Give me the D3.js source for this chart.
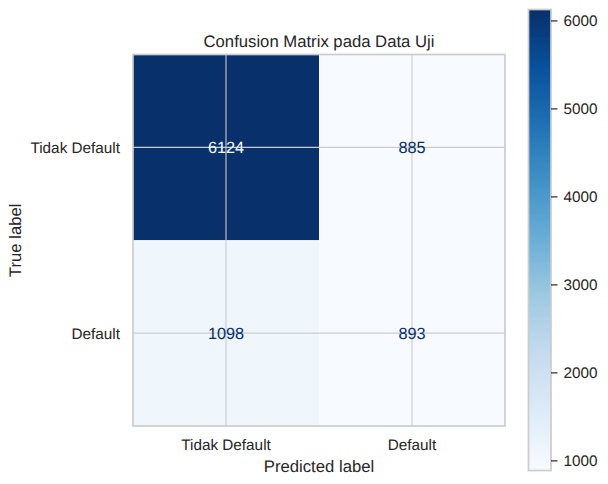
<!DOCTYPE html>
<html><head><meta charset="utf-8">
<script src="https://cdn.jsdelivr.net/npm/d3@7"></script>
<style>html,body{margin:0;padding:0;background:#fff}svg{display:block}text{font-family:"Liberation Sans",Arial,sans-serif;fill:#262626;text-rendering:geometricPrecision}</style>
</head><body><svg id="c" width="608" height="484"></svg>
<script>
const chartTitle = "Confusion Matrix pada Data Uji";
const xAxisLabel = "Predicted label";
const yAxisLabel = "True label";
const classNames = ["Tidak Default", "Default"];
const rowTidakDefault = [6124, 885];
const rowDefault = [1098, 893];
const colorbarTicks = [1000, 2000, 3000, 4000, 5000, 6000];
const bluesStops = ["#f7fbff","#deebf7","#c6dbef","#9ecae1","#6baed6","#4292c6","#2171b5","#08519c","#08306b"];

const matrix = [rowTidakDefault, rowDefault];
const all = matrix.flat();
const vmin = d3.min(all), vmax = d3.max(all);
const blues = d3.scaleLinear().domain(bluesStops.map((_, i) => i / (bluesStops.length - 1))).range(bluesStops).interpolate(d3.interpolateRgb);
const color = d3.scaleSequential(blues).domain([vmin, vmax]);

const svg = d3.select("#c");
const plot = {l: 133, r: 505, t: 54.5, b: 426};
const x = d3.scaleBand().domain(classNames).range([plot.l, plot.r]);
const y = d3.scaleBand().domain(classNames).range([plot.t, plot.b]);
const FS = 15.3, LS = 16.7, CS = 16.3;

const cells = matrix.flatMap((row, r) => row.map((v, c) => ({v, row: classNames[r], col: classNames[c]})));
svg.append("g").selectAll("rect").data(cells).join("rect")
  .attr("x", d => x(d.col)).attr("y", d => y(d.row))
  .attr("width", x.bandwidth()).attr("height", y.bandwidth())
  .attr("fill", d => color(d.v));

const grid = svg.append("g").attr("stroke", "#cccccc").attr("stroke-width", 1.1);
classNames.forEach(n => {
  const cx = x(n) + x.bandwidth() / 2, cy = y(n) + y.bandwidth() / 2;
  grid.append("line").attr("x1", cx).attr("x2", cx).attr("y1", plot.t).attr("y2", plot.b);
  grid.append("line").attr("x1", plot.l).attr("x2", plot.r).attr("y1", cy).attr("y2", cy);
});
svg.append("rect").attr("x", plot.l).attr("y", plot.t).attr("width", plot.r - plot.l).attr("height", plot.b - plot.t)
  .attr("fill", "none").attr("stroke", "#cccccc").attr("stroke-width", 1.7);

svg.append("g").selectAll("text").data(cells).join("text")
  .attr("x", d => x(d.col) + x.bandwidth() / 2).attr("y", d => y(d.row) + y.bandwidth() / 2)
  .attr("dy", "0.36em").attr("text-anchor", "middle").attr("font-size", CS)
  .style("fill", d => d.v > (vmin + vmax) / 2 ? "#f7fbff" : "#08306b")
  .text(d => d.v);

classNames.forEach(n => {
  svg.append("text").attr("x", x(n) + x.bandwidth() / 2).attr("y", 450).attr("text-anchor", "middle").attr("font-size", FS).text(n);
  svg.append("text").attr("x", 120).attr("y", y(n) + y.bandwidth() / 2).attr("dy", "0.36em").attr("text-anchor", "end").attr("font-size", FS).text(n);
});
svg.append("text").attr("x", (plot.l + plot.r) / 2).attr("y", 472).attr("text-anchor", "middle").attr("font-size", LS).text(xAxisLabel);
svg.append("text").attr("transform", `translate(21,${(plot.t + plot.b) / 2}) rotate(-90)`).attr("text-anchor", "middle").attr("font-size", LS).text(yAxisLabel);
svg.append("text").attr("x", (plot.l + plot.r) / 2).attr("y", 47).attr("text-anchor", "middle").attr("font-size", LS).text(chartTitle);

const bar = {l: 528.5, r: 551, t: 9.5, b: 470.5};
const cy = d3.scaleLinear().domain([vmin, vmax]).range([bar.b, bar.t]);
const levels = d3.range(256);
const step = (vmax - vmin) / 256;
svg.append("g").attr("shape-rendering", "crispEdges").selectAll("rect").data(levels).join("rect")
  .attr("x", bar.l).attr("width", bar.r - bar.l)
  .attr("y", i => Math.round(cy(vmin + step * (i + 1))))
  .attr("height", i => Math.round(cy(vmin + step * i)) - Math.round(cy(vmin + step * (i + 1))))
  .attr("fill", i => color(vmin + (vmax - vmin) * i / 255));
svg.append("rect").attr("x", bar.l).attr("y", bar.t).attr("width", bar.r - bar.l).attr("height", bar.b - bar.t)
  .attr("fill", "none").attr("stroke", "#cccccc").attr("stroke-width", 1.7);
const axis = svg.append("g").attr("transform", `translate(${bar.r},0)`)
  .call(d3.axisRight(cy).tickValues(colorbarTicks).tickFormat(d3.format("d")).tickSize(6.5).tickPadding(6));
axis.select(".domain").remove();
axis.selectAll("line").attr("stroke", "#262626").attr("stroke-width", 1.2);
axis.selectAll("text").attr("font-size", FS).attr("font-family", null);
</script></body></html>
